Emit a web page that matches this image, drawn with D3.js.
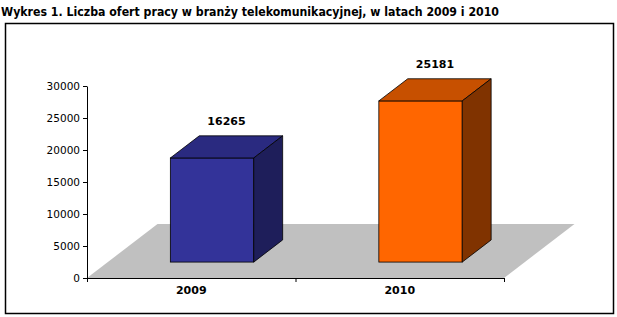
<!DOCTYPE html>
<html>
<head>
<meta charset="utf-8">
<script src="https://cdn.jsdelivr.net/npm/d3@7"></script>
<style>
  body { margin: 0; background: #fff; }
  svg { display: block; font-family: "DejaVu Sans", Verdana, sans-serif; }
</style>
</head>
<body>
<div id="container"></div>
<script>
var categories = ["2009", "2010"];
var values = [16265, 25181];
var yTicks = [0, 5000, 10000, 15000, 20000, 25000, 30000];
var title = "Wykres 1. Liczba ofert pracy w branży telekomunikacyjnej, w latach 2009 i 2010";

// face colours per bar: front, top, side
var faceColors = [
  ["#333399", "#2a2a80", "#1e1e5a"],
  ["#ff6600", "#c75000", "#803300"]
];

var width = 617, height = 317;

var svg = d3.select("#container").append("svg")
    .attr("width", width)
    .attr("height", height);

// title
svg.append("text")
    .attr("x", 1)
    .attr("y", 16)
    .attr("font-size", "12px")
    .attr("font-weight", "bold")
    .attr("textLength", 498)
    .attr("lengthAdjust", "spacingAndGlyphs")
    .text(title);

// frame
svg.append("rect")
    .attr("x", 5.5).attr("y", 23.5)
    .attr("width", 608).attr("height", 290)
    .attr("fill", "none")
    .attr("stroke", "#000")
    .attr("stroke-width", 1.5);

var x = d3.scaleBand()
    .domain(categories)
    .range([87, 504]);

var y = d3.scaleLinear()
    .domain([0, 30000])
    .range([278, 86]);

// depth of the floor (pseudo 3d)
var depthX = 70.5, depthY = -54;
var f0 = 0.295, f1 = 0.705;

// floor
var x0 = x.range()[0], x1 = x.range()[1], yb = y(0);
svg.append("polygon")
    .attr("points", [
      [x0, yb], [x1, yb], [x1 + depthX, yb + depthY], [x0 + depthX, yb + depthY]
    ].map(p => p.join(",")).join(" "))
    .attr("fill", "#c0c0c0");

// y axis
var gy = svg.append("g")
    .attr("transform", "translate(" + x0 + ",0)")
    .call(d3.axisLeft(y).tickValues(yTicks).tickFormat(d3.format("d"))
      .tickSize(4).tickSizeOuter(0).tickPadding(3));
gy.selectAll("text").attr("font-size", "10.5px").attr("fill", "#000")
    .attr("font-family", "'DejaVu Sans', Verdana, sans-serif");
gy.selectAll("line, path").attr("stroke", "#000");

// x axis
var gx = svg.append("g")
    .attr("transform", "translate(0," + yb + ")")
    .call(d3.axisBottom(x).tickSize(0).tickSizeOuter(0).tickPadding(8));
gx.selectAll("text").attr("font-size", "11px").attr("font-weight", "bold").attr("fill", "#000")
    .attr("font-family", "'DejaVu Sans', Verdana, sans-serif");
gx.select("path").attr("stroke", "#000");
var bounds = categories.map(c => x(c)).concat([x1]);
gx.selectAll(".bound").data(bounds).enter().append("line")
    .attr("class", "bound")
    .attr("x1", d => d + 0.5).attr("x2", d => d + 0.5)
    .attr("y1", 0).attr("y2", 4)
    .attr("stroke", "#000");

// bars
var bw = x.bandwidth() * 0.4;
var bdx = (f1 - f0) * depthX, bdy = (f1 - f0) * depthY;
var data = categories.map((c, i) => ({cat: c, value: values[i], col: faceColors[i]}));

var bars = svg.selectAll(".bar").data(data).enter().append("g").attr("class", "bar");

function pts(a) { return a.map(p => p.join(",")).join(" "); }

bars.each(function(d) {
  var g = d3.select(this);
  var xl = x(d.cat) + (x.bandwidth() - bw) / 2 + f0 * depthX;
  var xr = xl + bw;
  var yt = y(d.value) + f0 * depthY;
  var ybot = y(0) + f0 * depthY;
  g.append("rect")
      .attr("x", xl).attr("y", yt)
      .attr("width", bw).attr("height", ybot - yt)
      .attr("fill", d.col[0]).attr("stroke", "#000").attr("stroke-width", 0.8);
  g.append("polygon")
      .attr("points", pts([[xl, yt], [xr, yt], [xr + bdx, yt + bdy], [xl + bdx, yt + bdy]]))
      .attr("fill", d.col[1]).attr("stroke", "#000").attr("stroke-width", 0.8)
      .attr("stroke-linejoin", "round");
  g.append("polygon")
      .attr("points", pts([[xr, yt], [xr + bdx, yt + bdy], [xr + bdx, ybot + bdy], [xr, ybot]]))
      .attr("fill", d.col[2]).attr("stroke", "#000").attr("stroke-width", 0.8)
      .attr("stroke-linejoin", "round");
  g.append("text")
      .attr("x", (xl + xr) / 2 + bdx / 2)
      .attr("y", yt + bdy - 11)
      .attr("text-anchor", "middle")
      .attr("font-size", "11px")
      .attr("font-weight", "bold")
      .text(d.value);
});
</script>
</body>
</html>
